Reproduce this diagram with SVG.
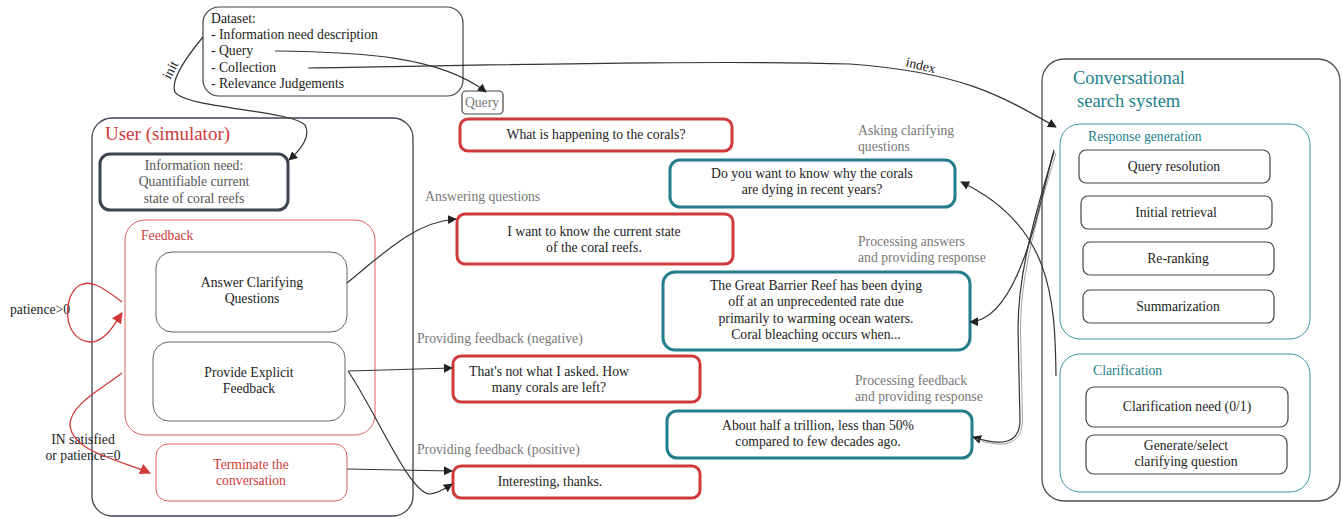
<svg xmlns="http://www.w3.org/2000/svg" width="1343" height="519" viewBox="0 0 1343 519" font-family="'Liberation Serif', 'Times New Roman', 'DejaVu Serif', serif">
<style>
text{font-family:"Liberation Serif","Times New Roman","DejaVu Serif",serif;font-size:13.7px;fill:#222}
.c{text-anchor:middle}
.lbl{fill:#777}
.red{fill:#d03a3a}
.teal{fill:#1d7f8c}
.box{fill:#fff;stroke:#444;stroke-width:1.2}
.rbox{fill:#fff;stroke:#d03a3a;stroke-width:3}
.tbox{fill:#fff;stroke:#237d8b;stroke-width:3}
.rframe{fill:none;stroke:#e06060;stroke-width:1}
.tframe{fill:none;stroke:#3a95a3;stroke-width:1}
.conn{fill:none;stroke:#333;stroke-width:1.2}
.faint{fill:none;stroke:#777;stroke-width:0.7}
.rconn{fill:none;stroke:#d03a3a;stroke-width:1.3}
</style>
<defs>
<marker id="ah" viewBox="0 0 10 10" refX="9" refY="5" markerWidth="9" markerHeight="9" markerUnits="userSpaceOnUse" orient="auto"><path d="M0,0 L10,5 L0,10 z" fill="#222"/></marker>
<marker id="rah" viewBox="0 0 10 10" refX="9" refY="5" markerWidth="11" markerHeight="11" markerUnits="userSpaceOnUse" orient="auto"><path d="M0,0 L10,5 L0,10 z" fill="#d03a3a"/></marker>
</defs>
<rect width="1343" height="519" fill="#fff"/>

<g id="dataset">
<rect x="203" y="7" width="260" height="89" rx="16" class="box"/>
<text x="211" y="23">Dataset:</text>
<text x="211" y="39">- Information need description</text>
<text x="211" y="55">- Query</text>
<text x="211" y="72">- Collection</text>
<text x="211" y="88">- Relevance Judgements</text>
</g>

<g id="query-label">
<rect x="462" y="91" width="41" height="23" rx="4" class="box"/>
<text x="482" y="107" class="c lbl">Query</text>
</g>

<g id="user">
<rect x="92" y="118" width="321" height="398" rx="20" fill="none" stroke="#3c4450" stroke-width="1.3"/>
<text x="105" y="140" class="red" style="font-size:19px">User (simulator)</text>
</g>

<g id="info-need">
<rect x="100" y="154" width="188" height="56" rx="10" fill="#fff" stroke="#3c4450" stroke-width="3"/>
<text x="194" y="170" class="c" style="fill:#555">Information need:</text>
<text x="194" y="186" class="c" style="fill:#555">Quantifiable current</text>
<text x="194" y="203" class="c" style="fill:#555">state of coral reefs</text>
</g>

<g id="feedback">
<rect x="125" y="220" width="250" height="215" rx="20" class="rframe"/>
<text x="141" y="240" class="red">Feedback</text>
</g>

<g id="answer-cq">
<rect x="156" y="252" width="191" height="80" rx="16" fill="#fff" stroke="#666" stroke-width="1"/>
<text x="252" y="287" class="c">Answer Clarifying</text>
<text x="252" y="303" class="c">Questions</text>
</g>

<g id="provide-feedback">
<rect x="153" y="342" width="192" height="79" rx="16" fill="#fff" stroke="#666" stroke-width="1"/>
<text x="249" y="377" class="c">Provide Explicit</text>
<text x="249" y="393" class="c">Feedback</text>
</g>

<g id="terminate">
<rect x="156" y="444" width="191" height="57" rx="12" fill="#fff" stroke="#e06060" stroke-width="1"/>
<text x="251" y="469" class="c red">Terminate the</text>
<text x="251" y="485" class="c red">conversation</text>
</g>

<g id="u1">
<rect x="460" y="119" width="272" height="32" rx="8" class="rbox"/>
<text x="596" y="139" class="c">What is happening to the corals?</text>
</g>
<g id="u2">
<rect x="457" y="214" width="276" height="50" rx="8" class="rbox"/>
<text x="594" y="236" class="c">I want to know the current state</text>
<text x="594" y="252" class="c">of the coral reefs.</text>
</g>
<g id="u3">
<rect x="453" y="356" width="247" height="46" rx="8" class="rbox"/>
<text x="549" y="376" class="c">That's not what I asked. How</text>
<text x="549" y="392" class="c">many corals are left?</text>
</g>
<g id="u4">
<rect x="453" y="466" width="247" height="32" rx="8" class="rbox"/>
<text x="550" y="486" class="c">Interesting, thanks.</text>
</g>

<g id="s1">
<rect x="670" y="160" width="285" height="47" rx="10" class="tbox"/>
<text x="812" y="178" class="c">Do you want to know why the corals</text>
<text x="812" y="194" class="c">are dying in recent years?</text>
</g>
<g id="s2">
<rect x="663" y="272" width="307" height="78" rx="12" class="tbox"/>
<text x="816" y="290" class="c">The Great Barrier Reef has been dying</text>
<text x="816" y="306" class="c">off at an unprecedented rate due</text>
<text x="816" y="323" class="c">primarily to warming ocean waters.</text>
<text x="816" y="339" class="c">Coral bleaching occurs when...</text>
</g>
<g id="s3">
<rect x="667" y="411" width="305" height="47" rx="10" class="tbox"/>
<text x="818" y="430" class="c">About half a trillion, less than 50%</text>
<text x="818" y="446" class="c">compared to few decades ago.</text>
</g>

<g id="labels">
<text x="858" y="135" class="lbl">Asking clarifying</text>
<text x="858" y="151" class="lbl">questions</text>
<text x="425" y="201" class="lbl">Answering questions</text>
<text x="858" y="246" class="lbl">Processing answers</text>
<text x="858" y="262" class="lbl">and providing response</text>
<text x="417" y="343" class="lbl">Providing feedback (negative)</text>
<text x="855" y="385" class="lbl">Processing feedback</text>
<text x="855" y="401" class="lbl">and providing response</text>
<text x="417" y="454" class="lbl">Providing feedback (positive)</text>
<text x="10" y="314">patience&gt;0</text>
<text x="83" y="444" class="c">IN satisfied</text>
<text x="83" y="460" class="c">or patience=0</text>
<text x="0" y="0" transform="translate(170,80) rotate(-62)">init</text>
<text x="0" y="0" transform="translate(905,66) rotate(14)">index</text>
</g>

<g id="system">
<rect x="1042" y="59" width="298" height="442" rx="22" fill="none" stroke="#4a4f55" stroke-width="1.3"/>
<text x="1073" y="84" class="teal" style="font-size:18.5px">Conversational</text>
<text x="1077" y="107" class="teal" style="font-size:18.5px">search system</text>
</g>
<g id="response-generation">
<rect x="1060" y="124" width="250" height="215" rx="20" class="tframe"/>
<text x="1088" y="141" class="teal">Response generation</text>
</g>
<g id="query-resolution">
<rect x="1079" y="150" width="191" height="33" rx="7" class="box"/>
<text x="1174" y="171" class="c">Query resolution</text>
</g>
<g id="initial-retrieval">
<rect x="1081" y="196" width="191" height="33" rx="7" class="box"/>
<text x="1176" y="217" class="c">Initial retrieval</text>
</g>
<g id="re-ranking">
<rect x="1083" y="242" width="191" height="33" rx="7" class="box"/>
<text x="1178" y="263" class="c">Re-ranking</text>
</g>
<g id="summarization">
<rect x="1083" y="290" width="191" height="33" rx="7" class="box"/>
<text x="1178" y="311" class="c">Summarization</text>
</g>
<g id="clarification">
<rect x="1060" y="354" width="250" height="138" rx="20" class="tframe"/>
<text x="1093" y="375" class="teal">Clarification</text>
</g>
<g id="clarification-need">
<rect x="1086" y="387" width="202" height="40" rx="8" class="box"/>
<text x="1187" y="411" class="c">Clarification need (0/1)</text>
</g>
<g id="generate-cq">
<rect x="1086" y="435" width="201" height="39" rx="8" class="box"/>
<text x="1186" y="450" class="c">Generate/select</text>
<text x="1186" y="466" class="c">clarifying question</text>
</g>

<g id="connectors">
<path class="conn" d="M203,37 C188,55 170,80 175,92 C185,108 290,110 305,125 C312,138 298,152 289,160" marker-end="url(#ah)"/>
<path class="conn" d="M275,51 C360,52 440,56 486,92" marker-end="url(#ah)"/>
<path class="conn" d="M308,68 C500,65 720,60 850,64 C960,72 1000,95 1056,127" marker-end="url(#ah)"/>
<path class="conn" d="M347,283 C385,252 415,222 456,219" marker-end="url(#ah)"/>
<path class="conn" d="M348,371 L452,368" marker-end="url(#ah)"/>
<path class="conn" d="M348,371 C375,410 410,495 430,494 C440,493 446,488 452,484" marker-end="url(#ah)"/>
<path class="conn" d="M347,469 L452,471" marker-end="url(#ah)"/>
<path class="conn" d="M1054,150 C1040,200 1020,320 970,322" marker-end="url(#ah)"/>
<path class="conn" d="M1054,152 C1030,230 1018,280 1018,330 L1020,420 C1020,445 1000,446 973,437" marker-end="url(#ah)"/>
<path class="faint" d="M1056,153 C1032,232 1020.5,282 1020.5,330 L1022.5,420 C1022.5,447 1000,448 976,439"/>
<path class="conn" d="M1056,376 C1055,300 1052,225 961,182" marker-end="url(#ah)"/>
<path class="rconn" d="M122,302 C100,285 90,280 80,285 C62,295 62,340 90,342 C105,342 114,325 122,313" marker-end="url(#rah)"/>
<path class="rconn" d="M122,373 C100,390 70,405 70,425 C72,452 120,460 150,473" marker-end="url(#rah)"/>
</g>
</svg>
